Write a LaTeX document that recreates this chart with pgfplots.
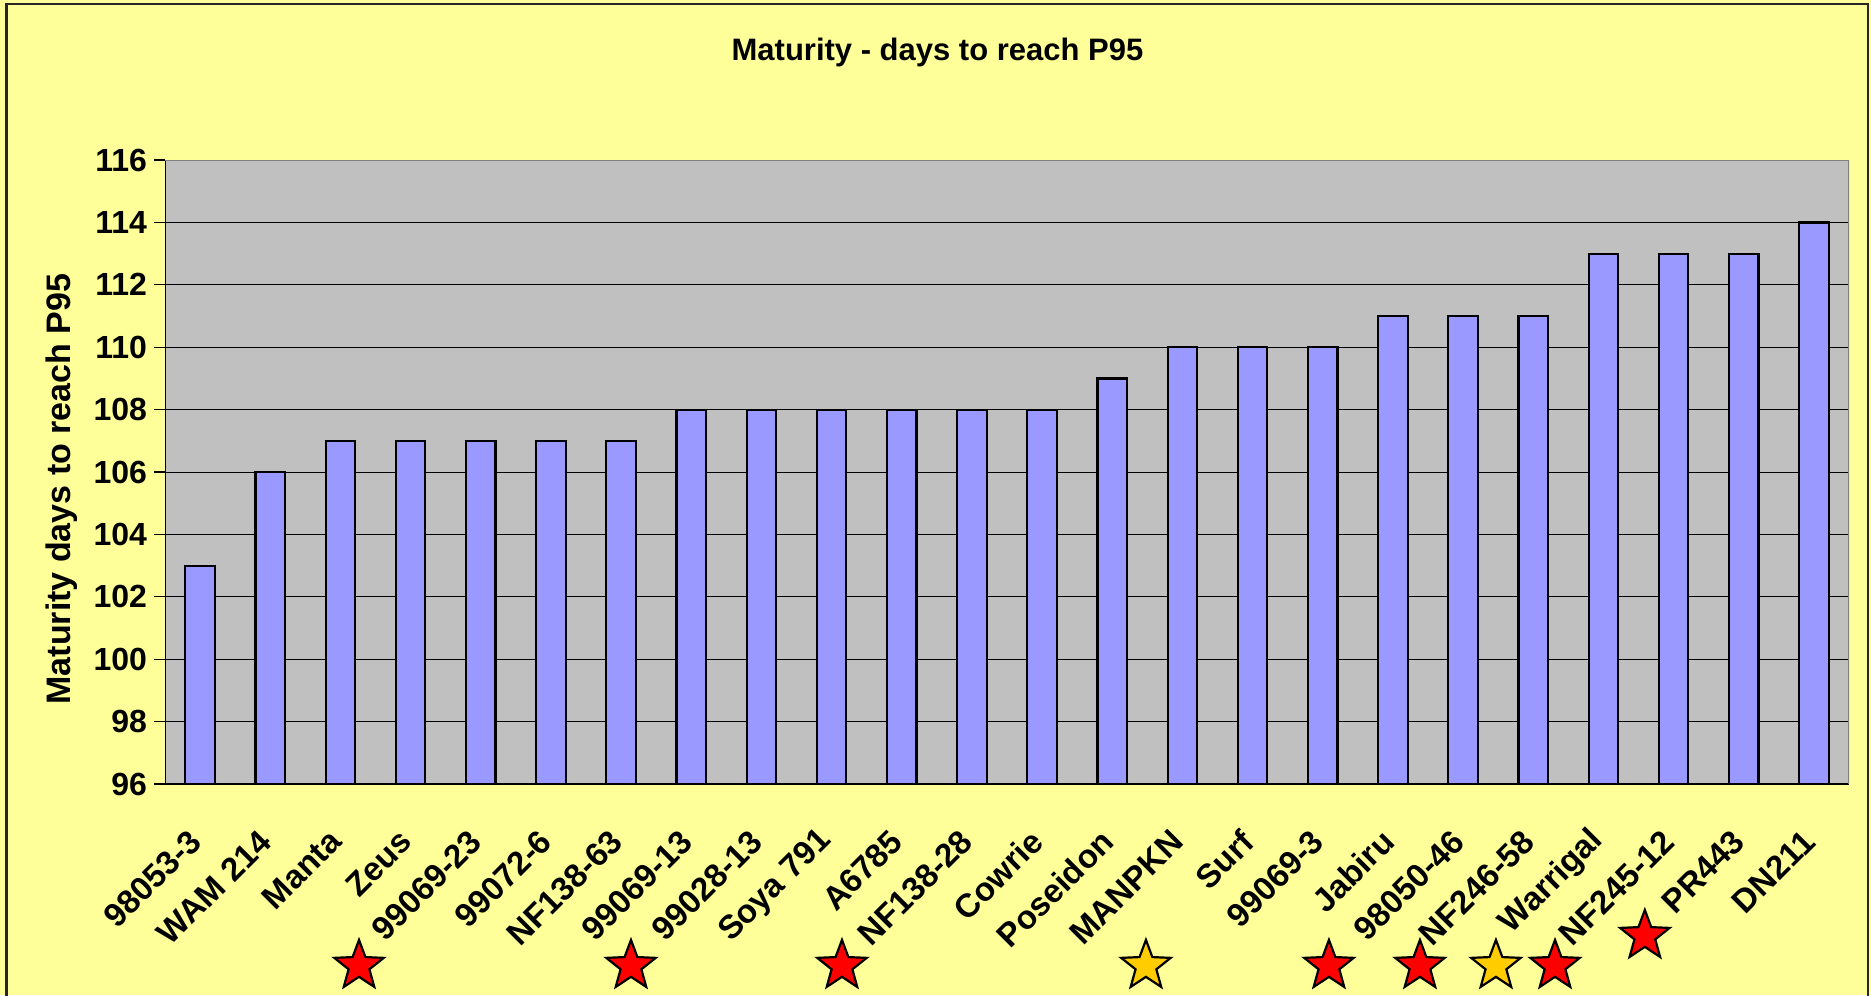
\documentclass[border=0pt]{standalone}
\usepackage{pgfplots}
\pgfplotsset{compat=1.18}
\usepackage{fontspec}
\setmainfont{Liberation Sans}
\definecolor{bgyellow}{HTML}{FFFF99}
\definecolor{plotgray}{HTML}{C0C0C0}
\definecolor{barblue}{HTML}{9999FF}
\definecolor{stargold}{HTML}{FFCC00}
\definecolor{starred}{HTML}{FF0000}
\pgfdeclareplotmark{bigstar}{%
  \pgfpathmoveto{\pgfpointpolar{90}{\pgfplotmarksize}}%
  \pgfpathlineto{\pgfpointpolar{126}{0.42\pgfplotmarksize}}%
  \pgfpathlineto{\pgfpointpolar{162}{\pgfplotmarksize}}%
  \pgfpathlineto{\pgfpointpolar{198}{0.42\pgfplotmarksize}}%
  \pgfpathlineto{\pgfpointpolar{234}{\pgfplotmarksize}}%
  \pgfpathlineto{\pgfpointpolar{270}{0.42\pgfplotmarksize}}%
  \pgfpathlineto{\pgfpointpolar{306}{\pgfplotmarksize}}%
  \pgfpathlineto{\pgfpointpolar{342}{0.42\pgfplotmarksize}}%
  \pgfpathlineto{\pgfpointpolar{18}{\pgfplotmarksize}}%
  \pgfpathlineto{\pgfpointpolar{54}{0.42\pgfplotmarksize}}%
  \pgfpathclose
  \pgfusepathqfillstroke}
\pgfplotsset{common/.style={
  at={(82.5pt,-392pt)}, anchor=south west,
  width=842pt, height=312pt, scale only axis,
  xmin=-0.5, xmax=23.5, ymin=96, ymax=116}}
\begin{document}
\begin{tikzpicture}
\useasboundingbox (0,0) rectangle (935.5pt,-497.5pt);
\fill[bgyellow] (0,0) rectangle (935.5pt,-497.5pt);
\draw[black!85, line width=1.2pt] (3.3pt,-499pt) -- (3.3pt,-2pt) -- (934pt,-2pt) -- (934pt,-499pt);
\node[font=\bfseries\fontsize{15.5pt}{18pt}\selectfont] at (468.75pt,-26pt) {Maturity - days to reach P95};
\node[rotate=90, font=\bfseries\fontsize{17pt}{20pt}\selectfont] at (31pt,-244.5pt) {Maturity days to reach P95};
\begin{axis}[common,
  axis background/.style={fill=plotgray},
  axis line style={draw=none},
  tick pos=left, tick align=outside,
  ytick={96,98,...,116},
  major tick length=5.5pt, minor tick length=5.5pt,
  every tick/.style={black, line width=0.6pt},
  xtick={0,...,23},
  x tick style={draw=none},
  minor xtick={-0.5,0.5,...,23.5},
  xticklabels={98053-3,WAM 214,Manta,Zeus,99069-23,99072-6,NF138-63,99069-13,99028-13,Soya 791,A6785,NF138-28,Cowrie,Poseidon,MANPKN,Surf,99069-3,Jabiru,98050-46,NF246-58,Warrigal,NF245-12,PR443,DN211},
  xticklabel style={rotate=45, anchor=east, font=\bfseries\fontsize{16.5pt}{19pt}\selectfont},
  xticklabel shift=18pt,
  yticklabel style={font=\bfseries\fontsize{16pt}{19pt}\selectfont, /pgf/number format/assume math mode=true},
  ymajorgrids, grid style={black, line width=0.5pt},
]
\addplot[ybar, bar width=14.75pt, fill=barblue, draw=black, line width=1.1pt] coordinates {
(0,103) (1,106) (2,107) (3,107) (4,107) (5,107) (6,107) (7,108) (8,108) (9,108) (10,108) (11,108)
(12,108) (13,109) (14,110) (15,110) (16,110) (17,111) (18,111) (19,111) (20,113) (21,113) (22,113) (23,114)};
\draw[black, line width=1pt] (rel axis cs:0,1) -- (rel axis cs:0,0) -- (rel axis cs:1,0);
\draw[gray, line width=1pt] (rel axis cs:0,1) -- (rel axis cs:1,1) -- (rel axis cs:1,0);
\end{axis}
\begin{axis}[common, axis lines=none, ticks=none, clip=false]
\addplot[only marks, mark=bigstar, mark size=13pt, mark options={fill=starred, draw=black, line width=1.1pt}] coordinates {
(2.265,90.17) (6.141,90.17) (9.148,90.17) (16.088,90.17) (17.385,90.17) (19.31,90.17) (20.59,91.13)};
\addplot[only marks, mark=bigstar, mark size=13pt, mark options={fill=stargold, draw=black, line width=1.1pt}] coordinates {
(13.48,90.17) (18.468,90.17)};
\end{axis}
\end{tikzpicture}
\end{document}
